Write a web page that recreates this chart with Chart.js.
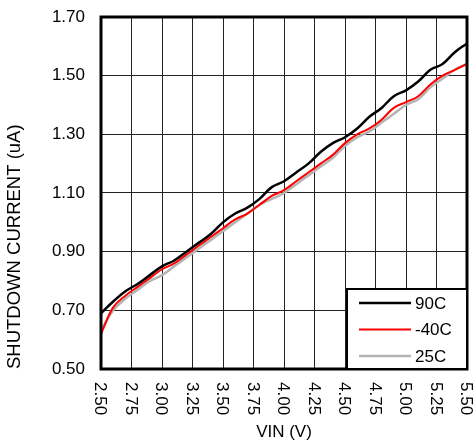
<!DOCTYPE html>
<html>
<head>
<meta charset="utf-8">
<script src="https://cdn.jsdelivr.net/npm/chart.js@4/dist/chart.umd.min.js"></script>
<style>
  html, body { margin: 0; padding: 0; background: #fff; }
  #wrap { width: 475px; height: 443px; }
</style>
</head>
<body>
<div id="wrap"><canvas id="chart" width="475" height="443"></canvas></div>
<script>
// VIN sweep, 0.1 V steps
const vin = [2.5, 2.6, 2.7, 2.8, 2.9, 3.0, 3.1, 3.2, 3.3, 3.4, 3.5, 3.6, 3.7, 3.8, 3.9, 4.0,
             4.1, 4.2, 4.3, 4.4, 4.5, 4.6, 4.7, 4.8, 4.9, 5.0, 5.1, 5.2, 5.3, 5.4, 5.5];

// shutdown current (uA)
const i90 = [0.69, 0.73, 0.765, 0.79, 0.82, 0.85, 0.87, 0.90, 0.93, 0.96, 1.00, 1.03, 1.05, 1.08, 1.12, 1.14,
             1.17, 1.20, 1.24, 1.27, 1.29, 1.32, 1.36, 1.39, 1.43, 1.45, 1.48, 1.52, 1.54, 1.58, 1.61];
const iM40 = [0.62, 0.71, 0.75, 0.78, 0.81, 0.84, 0.86, 0.89, 0.92, 0.95, 0.98, 1.01, 1.03, 1.06, 1.09, 1.11,
              1.14, 1.17, 1.20, 1.23, 1.27, 1.30, 1.32, 1.35, 1.39, 1.41, 1.43, 1.47, 1.50, 1.52, 1.54];
const i25 = [0.63, 0.70, 0.74, 0.77, 0.80, 0.82, 0.85, 0.88, 0.91, 0.94, 0.97, 1.00, 1.03, 1.06, 1.08, 1.10,
             1.13, 1.16, 1.19, 1.22, 1.26, 1.29, 1.31, 1.34, 1.37, 1.40, 1.42, 1.46, 1.49, 1.52, 1.54];

const seriesLabels = ['90C', '-40C', '25C'];
const xTickValues = [2.5, 2.75, 3.0, 3.25, 3.5, 3.75, 4.0, 4.25, 4.5, 4.75, 5.0, 5.25, 5.5];
const xTickLabels = ['2.50', '2.75', '3.00', '3.25', '3.50', '3.75', '4.00', '4.25', '4.50', '4.75', '5.00', '5.25', '5.50'];
const yTickValues = [0.5, 0.7, 0.9, 1.1, 1.3, 1.5, 1.7];
const yTickLabels = ['0.50', '0.70', '0.90', '1.10', '1.30', '1.50', '1.70'];

const FONT = 'Liberation Sans, Arial, sans-serif';

function pts(ys) {
    return vin.map((x, i) => ({ x: x, y: ys[i] }));
}

// x labels read top-to-bottom, so draw them by hand at the scale's tick pixels
const xLabelPlugin = {
    id: 'xLabels',
    afterDraw(chart) {
        const ctx = chart.ctx;
        const xs = chart.scales.x;
        const top = chart.chartArea.bottom + 13;
        ctx.save();
        ctx.font = '17px ' + FONT;
        ctx.fillStyle = '#000';
        ctx.textAlign = 'left';
        ctx.textBaseline = 'middle';
        xTickValues.forEach((v, i) => {
            ctx.save();
            ctx.translate(xs.getPixelForValue(v) - 1, top);
            ctx.rotate(Math.PI / 2);
            ctx.fillText(xTickLabels[i], 0, 0);
            ctx.restore();
        });
        ctx.restore();
    }
};

// heavy frame round the plot plus the boxed legend in the bottom-right corner
const framePlugin = {
    id: 'frame',
    afterDatasetsDraw(chart) {
        const ctx = chart.ctx;
        const a = chart.chartArea;
        ctx.save();
        ctx.strokeStyle = '#000';
        ctx.lineWidth = 3;
        ctx.strokeRect(a.left, a.top, a.right - a.left, a.bottom - a.top);

        // legend
        const bw = 120, bh = 80;
        const bx = a.right - bw, by = a.bottom - bh;
        ctx.fillStyle = '#fff';
        ctx.fillRect(bx, by, bw, bh);
        ctx.lineWidth = 2;
        ctx.strokeRect(bx, by, bw, bh);
        ctx.font = '17px ' + FONT;
        ctx.textAlign = 'left';
        ctx.textBaseline = 'middle';
        chart.data.datasets.forEach((ds, i) => {
            const y = by + 14 + i * 26.5;
            ctx.strokeStyle = ds.borderColor;
            ctx.lineWidth = ds.borderWidth;
            ctx.beginPath();
            ctx.moveTo(bx + 12, y);
            ctx.lineTo(bx + 64, y);
            ctx.stroke();
            ctx.fillStyle = '#000';
            ctx.fillText(ds.label, bx + 68, y + 1);
        });
        ctx.restore();
    }
};

new Chart(document.getElementById('chart'), {
    type: 'line',
    data: {
        datasets: [
            { label: seriesLabels[0], data: pts(i90), borderColor: '#000000', borderWidth: 2.5 },
            { label: seriesLabels[1], data: pts(iM40), borderColor: '#ff0000', borderWidth: 2 },
            { label: seriesLabels[2], data: pts(i25), borderColor: '#b4b4b4', borderWidth: 2.5 }
        ]
    },
    options: {
        responsive: false,
        animation: false,
        devicePixelRatio: 1,
        layout: { autoPadding: false, padding: { top: 17, right: 8, left: 0, bottom: 0 } },
        elements: {
            point: { radius: 0 },
            line: { tension: 0.4, fill: false }
        },
        plugins: {
            legend: { display: false },
            tooltip: { enabled: false }
        },
        scales: {
            x: {
                type: 'linear',
                min: 2.5,
                max: 5.5,
                afterBuildTicks: (s) => { s.ticks = xTickValues.map(v => ({ value: v })); },
                afterFit: (s) => { s.height = 74; s.paddingLeft = 0; s.paddingRight = 0; },
                ticks: { display: false },
                grid: { color: '#222', lineWidth: 1, drawTicks: false },
                border: { display: false },
                title: {
                    display: true,
                    text: 'VIN (V)',
                    color: '#000',
                    font: { family: FONT, size: 17 },
                    padding: 0
                }
            },
            y: {
                min: 0.5,
                max: 1.7,
                afterBuildTicks: (s) => { s.ticks = yTickValues.map(v => ({ value: v })); },
                afterFit: (s) => { s.width = 101; s.paddingTop = 0; s.paddingBottom = 0; },
                ticks: {
                    color: '#000',
                    font: { family: FONT, size: 17 },
                    padding: 16,
                    callback: (v, i) => yTickLabels[i]
                },
                grid: { color: '#222', lineWidth: 1, drawTicks: false },
                border: { display: false },
                title: {
                    display: true,
                    text: 'SHUTDOWN CURRENT (uA)',
                    color: '#000',
                    align: 'start',
                    font: { family: FONT, size: 18.5 },
                    padding: { top: 4, bottom: 0 }
                }
            }
        }
    },
    plugins: [xLabelPlugin, framePlugin]
});
</script>
</body>
</html>
